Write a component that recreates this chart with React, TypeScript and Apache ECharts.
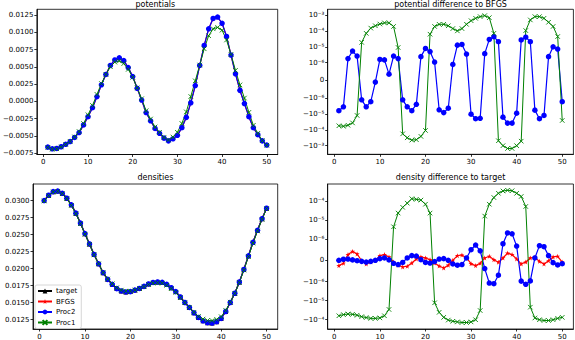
import React, { useEffect, useRef } from "react";
import * as echarts from "echarts";

// x positions 1..50
const xIndex = [
  1, 2, 3, 4, 5, 6, 7, 8, 9, 10, 11, 12, 13, 14, 15, 16, 17, 18, 19, 20, 21, 22, 23, 24, 25,
  26, 27, 28, 29, 30, 31, 32, 33, 34, 35, 36, 37, 38, 39, 40, 41, 42, 43, 44, 45, 46, 47, 48, 49, 50,
];
const xTicks = [0, 10, 20, 30, 40, 50];

// potentials
const potBFGS = [
  -0.0066, -0.00684, -0.0068, -0.00655, -0.0062, -0.0058, -0.0052, -0.0045, -0.0034, -0.0022,
  -0.0009, 0.0007, 0.0024, 0.0039, 0.0052, 0.006, 0.0063, 0.0059, 0.0049, 0.0036,
  0.0019, 0.0002, -0.0016, -0.0028, -0.0039, -0.0046, -0.0053, -0.0057, -0.0054, -0.0049,
  -0.0038, -0.0023, -0.0002, 0.0023, 0.0052, 0.0081, 0.0105, 0.012, 0.0122, 0.0113,
  0.0094, 0.0067, 0.004, 0.0016, -0.0003, -0.0022, -0.0038, -0.0048, -0.0057, -0.0063,
];
const potProc2 = [
  -0.0066, -0.00684, -0.0068, -0.00655, -0.0062, -0.0058, -0.0052, -0.0045, -0.0034, -0.0022,
  -0.0009, 0.0007, 0.0024, 0.0039, 0.0052, 0.006, 0.0063, 0.0059, 0.0049, 0.0036,
  0.0019, 0.0002, -0.0016, -0.0028, -0.0039, -0.0046, -0.0053, -0.0057, -0.0054, -0.0049,
  -0.0038, -0.0023, -0.0002, 0.0023, 0.0052, 0.0081, 0.0105, 0.012, 0.0122, 0.0113,
  0.0094, 0.0067, 0.004, 0.0016, -0.0003, -0.0022, -0.0038, -0.0048, -0.0057, -0.0063,
];
const potProc1 = [
  -0.00666, -0.0069, -0.00685, -0.00659, -0.00621, -0.00578, -0.00513, -0.00435, -0.00319, -0.00193,
  -0.00058, 0.00102, 0.00259, 0.00391, 0.00502, 0.00568, 0.00585, 0.00548, 0.00464, 0.00349,
  0.00196, 0.00039, -0.00134, -0.00254, -0.00369, -0.00446, -0.0052, -0.00556, -0.00514, -0.00446,
  -0.00318, -0.00151, 0.00071, 0.00298, 0.00527, 0.00761, 0.0095, 0.0105, 0.0107, 0.0103,
  0.00888, 0.0068, 0.00449, 0.00239, 0.00049, -0.00158, -0.00345, -0.00461, -0.00566, -0.00633,
];

// potential difference to BFGS
const potDiffProc2 = [
  -6.3e-6, -3.6e-6, 1.8e-6, 5.4e-6, 2.6e-6, -1.3e-6, -3.6e-6, -1.7e-6, -1e-7, 1.6e-6,
  1.5e-6, 3.5e-7, 2.6e-6, 1.8e-6, -1.3e-6, -3.6e-6, -6.3e-6, -2.5e-6, 2.4e-6, 7.9e-6,
  5.0e-6, 1.1e-6, -5.5e-6, -8.3e-6, -4.4e-6, 9e-7, 1.27e-5, 1.4e-5, 3.5e-6, -1.05e-5,
  -2.0e-5, -1.9e-5, 3.7e-6, 2.9e-5, 4.3e-5, 2.1e-5, -1.6e-5, -3.8e-5, -3.8e-5, -9e-6,
  2.7e-5, 4.0e-5, 2.1e-5, -5.8e-6, -2.0e-5, -1.26e-5, 2.4e-6, 1.0e-5, 7.2e-6, -1.7e-6,
];
const potDiffProc1 = [
  -5.6e-5, -6.0e-5, -5.2e-5, -3.7e-5, -1.26e-5, 1.9e-5, 7.0e-5, 1.5e-4, 2.1e-4, 2.7e-4,
  3.2e-4, 3.2e-4, 1.9e-4, 9e-6, -1.8e-4, -3.2e-4, -4.5e-4, -4.2e-4, -2.6e-4, -1.1e-4,
  6.2e-5, 1.9e-4, 2.6e-4, 2.6e-4, 2.1e-4, 1.4e-4, 1.0e-4, 1.4e-4, 2.6e-4, 4.4e-4,
  6.2e-4, 7.9e-4, 9.1e-4, 6.8e-4, 7.0e-5, -4.9e-4, -1.0e-3, -1.5e-3, -1.5e-3, -1.0e-3,
  -5.2e-4, 1.05e-4, 4.9e-4, 7.9e-4, 7.9e-4, 6.2e-4, 3.5e-4, 1.9e-4, 4.4e-5, -2.6e-5,
];

// densities
const densTarget = [
  0.03, 0.03078, 0.03131, 0.0314, 0.03107, 0.03034, 0.02937, 0.02815, 0.0267, 0.02514,
  0.02363, 0.02208, 0.02071, 0.0194, 0.01843, 0.0177, 0.01707, 0.01673, 0.01658, 0.01663,
  0.01685, 0.0171, 0.0174, 0.01775, 0.01797, 0.01804, 0.01799, 0.0177, 0.01721, 0.01663,
  0.01585, 0.01503, 0.0143, 0.01352, 0.01284, 0.01235, 0.01206, 0.01201, 0.01221, 0.0127,
  0.01371, 0.01503, 0.01639, 0.01804, 0.01989, 0.02188, 0.02387, 0.02563, 0.02733, 0.02888,
];
const densBFGS = densTarget;
const densProc2 = densTarget;
const densProc1 = [
  0.02994, 0.03072, 0.03126, 0.03135, 0.03101, 0.03027, 0.02929, 0.02806, 0.02661, 0.02506,
  0.02357, 0.02205, 0.02071, 0.01942, 0.01848, 0.01778, 0.0172, 0.01685, 0.01669, 0.0167,
  0.01687, 0.01709, 0.01736, 0.01768, 0.01787, 0.01792, 0.01786, 0.01756, 0.01707, 0.0165,
  0.01575, 0.015, 0.01432, 0.01359, 0.01299, 0.0126, 0.01239, 0.01237, 0.01255, 0.01295,
  0.01388, 0.01508, 0.01637, 0.01796, 0.01979, 0.02177, 0.02376, 0.02553, 0.02725, 0.02881,
];

// density difference to target
const densDiffBFGS = [
  -2.5e-7, -1.4e-7, 2.7e-7, 4.2e-7, 3.0e-7, -2e-8, -1.7e-7, -8e-8, 0, 2.2e-7,
  2.7e-7, 1.6e-7, -8e-8, -2.3e-7, -3.1e-7, -2.8e-7, -1.3e-7, 6e-8, 1.6e-7, 1.1e-7,
  3e-8, -1.3e-7, -2.7e-7, -3.6e-7, -2.3e-7, 0, 2.2e-7, 2.5e-7, 1.1e-7, -1.6e-7,
  -2.5e-7, -1.4e-7, 1.1e-7, 1.9e-7, 3e-8, -9e-8, 1.1e-7, 3.4e-7, 2.7e-7, 6e-8,
  -1.7e-7, -8e-8, 1.1e-7, 1.4e-7, -5e-8, -1.7e-7, -2e-8, 1.6e-7, 1.9e-7, -8e-8,
];
const densDiffProc2 = [
  0, 5e-8, 6e-8, 2e-8, -2e-8, -5e-8, -8e-8, -5e-8, 0, 8e-8,
  1.1e-7, 2e-8, -1.4e-7, -2.0e-7, -1.0e-7, 1.1e-7, 2.2e-7, 2.0e-7, 3e-8, -1.0e-7,
  -1.3e-7, -6e-8, 6e-8, 8e-8, 0, -1.7e-7, -2.3e-7, -2.0e-7, 1.1e-7, 5.0e-7,
  7.2e-7, 4.5e-7, -3.9e-7, -1.2e-6, -1.3e-6, -7.0e-7, 7.8e-7, 2.1e-6, 1.9e-6, 6.7e-7,
  -9.8e-7, -1.4e-6, -9.7e-7, 1.1e-7, 6.9e-7, 6.4e-7, 2.2e-7, -1.1e-7, -2.2e-7, -1.6e-7,
];
const densDiffProc1 = [
  -6.2e-5, -5.4e-5, -5.0e-5, -5.2e-5, -5.8e-5, -6.9e-5, -7.7e-5, -8.5e-5, -8.5e-5, -8.0e-5,
  -6.2e-5, -2.9e-5, 4.4e-6, 2.3e-5, 4.6e-5, 7.6e-5, 1.3e-4, 1.2e-4, 1.1e-4, 6.7e-5,
  2.3e-5, -1.3e-5, -4.1e-5, -7.5e-5, -1.04e-4, -1.2e-4, -1.3e-4, -1.4e-4, -1.4e-4, -1.3e-4,
  -1.0e-4, -3.3e-5, 1.6e-5, 6.7e-5, 1.5e-4, 2.5e-4, 3.3e-4, 3.6e-4, 3.4e-4, 2.5e-4,
  1.7e-4, 5.1e-5, -2.2e-5, -8.1e-5, -1.0e-4, -1.1e-4, -1.1e-4, -1.0e-4, -8.5e-5, -7.5e-5,
];

// tick labels
const potTicks = [-0.0075, -0.005, -0.0025, 0, 0.0025, 0.005, 0.0075, 0.01, 0.0125];
const densTicks = [0.0125, 0.015, 0.0175, 0.02, 0.0225, 0.025, 0.0275, 0.03];
const potDiffTicks = [1e-3, 1e-4, 1e-5, 1e-6, 0, -1e-6, -1e-5, -1e-4, -1e-3];
const potDiffLabels = ["10⁻³", "10⁻⁴", "10⁻⁵", "10⁻⁶", "0", "−10⁻⁶", "−10⁻⁵", "−10⁻⁴", "−10⁻³"];
const densDiffTicks = [1e-4, 1e-5, 1e-6, 0, -1e-6, -1e-5, -1e-4];
const densDiffLabels = ["10⁻⁴", "10⁻⁵", "10⁻⁶", "0", "−10⁻⁶", "−10⁻⁵", "−10⁻⁴"];

const titles = ["potentials", "potential difference to BFGS", "densities", "density difference to target"];
const legendNames = ["target", "BFGS", "Proc2", "Proc1"];

// symlog scale (linthresh 1e-6, linscale 1, base 10)
const LINTHRESH = 1e-6;
const LINADJ = 1 / (1 - 1 / 10);
function symlog(v: number): number {
  const a = Math.abs(v);
  if (a <= LINTHRESH) return (v / LINTHRESH) * LINADJ;
  return Math.sign(v) * (LINADJ + Math.log10(a / LINTHRESH));
}
const ident = (v: number) => v;

const FONT = "DejaVu Sans";
const STAR = "path://M5,0L6.2,3.6L10,3.6L6.9,5.8L8.1,9.5L5,7.2L1.9,9.5L3.1,5.8L0,3.6L3.8,3.6Z";
const XMARK = "path://M0,0L10,10M10,0L0,10";

const styles: Record<string, any> = {
  target: { color: "#000000", symbol: "triangle", symbolSize: 5, lw: 1.2 },
  BFGS: { color: "#ff0000", symbol: STAR, symbolSize: 5, lw: 1.2 },
  Proc2: { color: "#0000ff", symbol: "circle", symbolSize: 5.5, lw: 1.2 },
  Proc1: { color: "#008000", symbol: XMARK, symbolSize: 4.5, lw: 1.0 },
};

const grids = [
  { left: 33, top: 9.3, width: 244.7, height: 145.2 },
  { left: 327.7, top: 9.3, width: 245.7, height: 145 },
  { left: 33, top: 184, width: 244.7, height: 146 },
  { left: 327.7, top: 184, width: 245.7, height: 146 },
];

function mkSeries(name: string, vals: number[], gi: number, tf: (v: number) => number) {
  const s = styles[name];
  const isX = s.symbol === XMARK;
  return {
    type: "line",
    name,
    xAxisIndex: gi,
    yAxisIndex: gi,
    data: xIndex.map((x, i) => [x, tf(vals[i])]),
    symbol: s.symbol,
    symbolSize: s.symbolSize,
    showSymbol: true,
    showAllSymbol: true,
    lineStyle: { color: s.color, width: s.lw },
    itemStyle: isX
      ? { color: "rgba(0,0,0,0)", borderColor: s.color, borderWidth: 0.9 }
      : { color: s.color, borderWidth: 0 },
    emphasis: { disabled: true },
    clip: true,
  };
}

function tickAxisLabel(ticks: number[], labels: string[]) {
  const tv = ticks.map(symlog);
  return {
    customValues: tv,
    formatter: (v: number) => {
      let best = 0;
      for (let i = 1; i < tv.length; i++) if (Math.abs(tv[i] - v) < Math.abs(tv[best] - v)) best = i;
      return labels[best];
    },
  };
}

export default function App() {
  const ref = useRef<HTMLDivElement>(null);
  useEffect(() => {
    if (!ref.current) return;
    const chart = echarts.init(ref.current, null, { renderer: "svg" });
    const labelBase = { fontSize: 7, color: "#000", fontFamily: FONT };
    const tickBase = { show: true, length: 2.5, lineStyle: { color: "#000", width: 0.8 } };
    const lineBase = { show: true, onZero: false, lineStyle: { color: "#000", width: 0.8 } };

    const xAxis = grids.map((_, i) => ({
      type: "value",
      gridIndex: i,
      min: -1.45,
      max: 52.45,
      axisLine: lineBase,
      axisTick: { ...tickBase, customValues: xTicks },
      axisLabel: { ...labelBase, customValues: xTicks, margin: 4 },
      splitLine: { show: false },
    }));

    const fmtLin = (v: number) => v.toFixed(4).replace("-", "−");
    const pdl = tickAxisLabel(potDiffTicks, potDiffLabels);
    const ddl = tickAxisLabel(densDiffTicks, densDiffLabels);
    const yAxis = [
      {
        type: "value", gridIndex: 0, min: -0.00767, max: 0.01332,
        axisLine: lineBase,
        axisTick: { ...tickBase, customValues: potTicks },
        axisLabel: { ...labelBase, customValues: potTicks, formatter: fmtLin, margin: 3.5 },
        splitLine: { show: false },
      },
      {
        type: "value", gridIndex: 1, min: -4.654, max: 4.47,
        axisLine: lineBase,
        axisTick: { ...tickBase, customValues: pdl.customValues },
        axisLabel: { ...labelBase, ...pdl, margin: 3.5 },
        splitLine: { show: false },
      },
      {
        type: "value", gridIndex: 2, min: 0.01114, max: 0.03243,
        axisLine: lineBase,
        axisTick: { ...tickBase, customValues: densTicks },
        axisLabel: { ...labelBase, customValues: densTicks, formatter: fmtLin, margin: 3.5 },
        splitLine: { show: false },
      },
      {
        type: "value", gridIndex: 3, min: -3.596, max: 3.995,
        axisLine: lineBase,
        axisTick: { ...tickBase, customValues: ddl.customValues },
        axisLabel: { ...labelBase, ...ddl, margin: 3.5 },
        splitLine: { show: false },
      },
    ];

    const series = [
      mkSeries("target", densTarget, 2, ident),
      mkSeries("BFGS", densBFGS, 2, ident),
      mkSeries("Proc2", densProc2, 2, ident),
      mkSeries("Proc1", densProc1, 2, ident),
      mkSeries("BFGS", potBFGS, 0, ident),
      mkSeries("Proc2", potProc2, 0, ident),
      mkSeries("Proc1", potProc1, 0, ident),
      mkSeries("Proc2", potDiffProc2, 1, symlog),
      mkSeries("Proc1", potDiffProc1, 1, symlog),
      mkSeries("BFGS", densDiffBFGS, 3, symlog),
      mkSeries("Proc2", densDiffProc2, 3, symlog),
      mkSeries("Proc1", densDiffProc1, 3, symlog),
    ];

    const titleY = [4.5, 4.5, 177.5, 177.5];
    const graphic = grids.map((g, i) => ({
      type: "text",
      x: g.left + g.width / 2,
      y: titleY[i],
      style: {
        text: titles[i],
        fill: "#000",
        font: `8px "${FONT}"`,
        textAlign: "center",
        textVerticalAlign: "middle",
      },
      z: 10,
    }));

    chart.setOption({
      animation: false,
      backgroundColor: "#ffffff",
      grid: grids.map((g) => ({
        ...g,
        show: true,
        borderColor: "#000",
        borderWidth: 0.8,
        backgroundColor: "transparent",
        containLabel: false,
      })),
      xAxis,
      yAxis,
      series,
      graphic,
      legend: {
        data: legendNames,
        orient: "vertical",
        left: 35,
        top: 285,
        itemWidth: 14,
        itemHeight: 6,
        itemGap: 2.5,
        padding: [2, 4, 2, 2],
        backgroundColor: "rgba(255,255,255,0.8)",
        borderColor: "#cccccc",
        borderWidth: 0.8,
        borderRadius: 2,
        selectedMode: false,
        textStyle: { fontSize: 7, fontFamily: FONT, color: "#000", lineHeight: 8, padding: [0, 0, 0, -1] },
        z: 20,
      },
    });
    return () => chart.dispose();
  }, []);
  return (
    <div
      ref={ref}
      style={{ position: "fixed", left: 0, top: 0, width: 575, height: 340, background: "#fff" }}
    />
  );
}
